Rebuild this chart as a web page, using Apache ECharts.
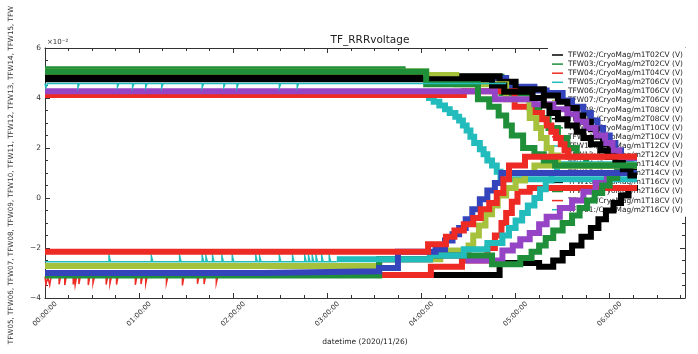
<!DOCTYPE html>
<html>
<head>
<meta charset="utf-8">
<title>TF_RRRvoltage</title>
<script src="https://cdn.jsdelivr.net/npm/echarts/dist/echarts.min.js"></script>
<style>
html, body { margin: 0; padding: 0; background: #fff; }
#chart { width: 698px; height: 354px; }
</style>
</head>
<body>
<div id="chart"></div>
<script>
// time in hours after 00:00:00, voltage in units of 1e-2 V

var names = [
    'TFW02:/CryoMag/m1T02CV (V)', 'TFW03:/CryoMag/m2T02CV (V)', 'TFW04:/CryoMag/m1T04CV (V)',
    'TFW05:/CryoMag/m2T06CV (V)', 'TFW06:/CryoMag/m1T06CV (V)', 'TFW07:/CryoMag/m2T06CV (V)',
    'TFW08:/CryoMag/m1T08CV (V)', 'TFW09:/CryoMag/m2T08CV (V)', 'TFW10:/CryoMag/m1T10CV (V)',
    'TFW11:/CryoMag/m2T10CV (V)', 'TFW12:/CryoMag/m1T12CV (V)', 'TFW13:/CryoMag/m2T12CV (V)',
    'TFW14:/CryoMag/m1T14CV (V)', 'TFW15:/CryoMag/m2T14CV (V)', 'TFW16:/CryoMag/m1T16CV (V)',
    'TFW17:/CryoMag/m2T16CV (V)', 'TFW18:/CryoMag/m1T18CV (V)', 'TFW01:/CryoMag/m2T16CV (V)'
];

var hourTicks = [0, 1, 2, 3, 4, 5, 6];
var yTicks = [-4, -2, 0, 2, 4, 6];

var tfw02 = [[0, -3.08], [4.83, -2.6], [5.25, -2.75], [5.4, -2.5], [5.5, -2.2], [5.6, -1.9], [5.7, -1.55],
    [5.8, -1.2], [5.88, -0.85], [5.96, -0.5], [6.04, -0.2], [6.12, 0.1], [6.2, 0.4], [6.3, 0.4]];
var tfw03 = [[0, 5.15], [3.8, 4.85], [4.85, 4.2], [5.15, 3.6], [5.25, 3.2], [5.35, 2.8], [5.45, 2.4],
    [5.55, 2.0], [5.65, 1.65], [5.75, 1.3], [6.29, 1.3]];
// TFW04: quiet part with the short drops below the band
var tfw04Quiet = [[0, -3.15], [0.01, -3.45], [0.03, -3.15], [0.05, -3.48], [0.065, -3.15], [0.15, -3.45], [0.165, -3.15],
    [0.21, -3.48], [0.225, -3.15], [0.3, -3.46], [0.313, -3.15], [0.32, -3.48], [0.335, -3.15], [0.36, -3.44], [0.375, -3.15],
    [0.46, -3.48], [0.475, -3.15], [0.51, -3.4], [0.525, -3.15], [0.65, -3.46], [0.665, -3.15], [0.69, -3.42], [0.705, -3.15],
    [0.76, -3.46], [0.775, -3.15], [0.96, -3.47], [0.975, -3.15], [1.02, -3.44], [1.035, -3.15], [1.07, -3.42], [1.085, -3.15],
    [1.29, -3.4], [1.305, -3.15], [1.46, -3.5], [1.475, -3.15], [1.62, -3.43], [1.635, -3.15], [1.69, -3.44], [1.705, -3.15],
    [1.82, -3.4], [1.835, -3.15], [3.55, -3.15]];
var tfw04 = [[3.55, -3.08], [4.1, -2.75], [4.43, -2.5], [4.7, -2.0], [4.78, -1.5], [4.85, -1.0], [4.9, -0.6],
    [4.96, -0.15], [5.02, 0.25], [5.15, 0.4], [6.29, 0.4]];
var tfw05 = [[0, 4.15], [4.08, 4.0], [4.13, 3.85], [4.19, 3.7], [4.25, 3.55], [4.3, 3.4], [4.36, 3.25], [4.4, 3.1],
    [4.44, 2.9], [4.48, 2.7], [4.52, 2.45], [4.56, 2.2], [4.62, 1.95], [4.66, 1.75], [4.7, 1.5], [4.75, 1.3],
    [4.8, 1.05], [4.84, 0.75], [6.29, 0.75]];
var tfw06 = [[0, 4.8], [4.9, 4.45], [5.2, 4.3], [5.33, 4.2], [5.5, 3.9], [5.6, 3.65], [5.72, 3.4], [5.8, 3.1],
    [5.87, 2.8], [5.93, 2.5], [6.0, 2.2], [6.06, 1.9], [6.12, 1.6], [6.18, 1.3], [6.22, 1.0], [6.29, 1.0]];
var tfw07 = [[0, -2.72], [3.55, -2.45], [4.2, -2.1], [4.5, -1.9], [4.55, -1.5], [4.61, -1.1], [4.68, -0.65],
    [4.75, -0.3], [4.81, 0.1], [4.9, 0.4], [5.0, 0.7], [5.1, 1.0], [5.2, 1.3], [6.29, 1.3]];
var tfw08 = [[0, -3.05], [3.55, -2.45], [4.09, -2.3], [4.5, -2.5], [4.86, -2.1], [4.97, -1.9], [5.05, -1.65],
    [5.15, -1.4], [5.25, -1.05], [5.33, -0.75], [5.47, -0.4], [5.6, -0.1], [5.72, 0.25], [5.85, 0.6],
    [5.97, 0.95], [6.08, 1.3], [6.29, 1.3]];
var tfw09 = [[0, 4.87], [4.83, 4.65], [5.0, 4.35], [5.3, 4.1], [5.45, 3.85], [5.55, 3.6], [5.65, 3.3], [5.72, 3.05],
    [5.8, 2.75], [5.86, 2.45], [5.93, 2.15], [6.0, 1.85], [6.07, 1.6], [6.14, 1.35], [6.22, 1.1], [6.29, 1.1]];
var tfw10 = [[0, -3.1], [3.55, -2.45], [4.09, -2.3], [4.75, -2.65], [5.05, -2.4], [5.17, -2.15], [5.25, -1.9],
    [5.32, -1.6], [5.4, -1.3], [5.5, -1.0], [5.6, -0.7], [5.68, -0.4], [5.76, -0.1], [5.84, 0.2], [5.92, 0.5],
    [6.0, 0.8], [6.08, 1.05], [6.15, 1.3], [6.29, 1.3]];
var tfw11 = [[0, 4.12], [4.45, 4.27], [4.99, 3.65], [5.17, 3.4], [5.28, 3.15], [5.33, 2.9], [5.38, 2.65],
    [5.43, 2.4], [5.48, 2.15], [5.52, 1.9], [5.56, 1.65], [6.29, 1.65]];
// TFW12: thin line with upward blips, then the noisy band
var tfw12Quiet = [[0, -2.55], [0.68, -2.3], [0.695, -2.55], [1.13, -2.32], [1.145, -2.55], [1.43, -2.3], [1.445, -2.55],
    [1.67, -2.3], [1.685, -2.55], [1.71, -2.33], [1.725, -2.55], [1.78, -2.3], [1.795, -2.55], [1.88, -2.32], [1.895, -2.55],
    [1.99, -2.3], [2.005, -2.55], [2.24, -2.3], [2.255, -2.55], [2.28, -2.33], [2.295, -2.55], [2.49, -2.3], [2.505, -2.55],
    [2.63, -2.3], [2.645, -2.55], [2.76, -2.31], [2.775, -2.55], [2.8, -2.3], [2.815, -2.55], [2.84, -2.32], [2.855, -2.55],
    [2.88, -2.3], [2.895, -2.55], [2.94, -2.3], [2.955, -2.55], [3.02, -2.31], [3.035, -2.55], [3.1, -2.55]];
var tfw12 = [[3.1, -2.45], [4.09, -2.3], [4.45, -2.05], [4.7, -1.8], [4.86, -1.5], [4.93, -1.2], [5.0, -0.9],
    [5.07, -0.6], [5.13, -0.3], [5.2, 0.0], [5.26, 0.35], [5.32, 0.7], [5.38, 1.0], [5.44, 1.35], [6.29, 1.35]];
var tfw13 = [[0, -3.0], [2.3, -2.93], [3.55, -2.8], [3.75, -2.15], [4.15, -2.05], [4.25, -1.7], [4.33, -1.45],
    [4.4, -1.2], [4.47, -0.85], [4.54, -0.45], [4.62, -0.05], [4.7, 0.3], [4.78, 0.6], [4.85, 1.0], [6.29, 1.0]];
var tfw14 = [[0, 5.06], [4.05, 4.92], [4.37, 4.55], [4.9, 3.95], [5.15, 3.2], [5.22, 2.8], [5.27, 2.4],
    [5.33, 2.0], [5.38, 1.7], [5.45, 1.3], [6.29, 1.3]];
var tfw15 = [[0, 4.27], [4.78, 3.95], [5.2, 3.75], [5.4, 3.55], [5.55, 3.35], [5.65, 3.05], [5.75, 2.8],
    [5.85, 2.5], [5.95, 2.2], [6.03, 1.9], [6.1, 1.6], [6.29, 1.6]];
var tfw16 = [[0, 4.75], [4.75, 4.5], [4.88, 4.25], [5.18, 4.0], [5.3, 3.7], [5.36, 3.4], [5.45, 3.15], [5.55, 2.9],
    [5.65, 2.65], [5.72, 2.4], [5.8, 2.15], [5.9, 1.9], [5.98, 1.65], [6.06, 1.4], [6.14, 1.15], [6.22, 0.9], [6.29, 0.9]];
var tfw17 = [[0, 5.06], [4.05, 4.55], [4.6, 3.95], [4.72, 3.65], [4.82, 3.3], [4.9, 2.9], [4.96, 2.5],
    [5.08, 2.0], [5.2, 1.75], [5.3, 1.5], [5.42, 1.3], [6.29, 1.3]];
var tfw18 = [[0, -2.15], [4.07, -1.85], [4.26, -1.55], [4.35, -1.3], [4.45, -1.05], [4.55, -0.8], [4.63, -0.45],
    [4.72, -0.2], [4.8, 0.2], [4.87, 0.75], [4.93, 1.3], [5.1, 1.65], [6.29, 1.65]];
var tfw01 = [[0, 4.58], [0.01, 4.42], [0.025, 4.58], [0.35, 4.42], [0.365, 4.58], [0.77, 4.44], [0.785, 4.58],
    [0.93, 4.42], [0.945, 4.58], [1.07, 4.43], [1.085, 4.58], [1.24, 4.42], [1.255, 4.58], [1.67, 4.42], [1.685, 4.58],
    [1.9, 4.44], [1.915, 4.58], [2.04, 4.42], [2.055, 4.58], [2.49, 4.42], [2.505, 4.58], [2.68, 4.43], [2.695, 4.58],
    [4.9, 4.58]];

var colors = ['#000000', '#1f8f3a', '#ee2a24', '#22bcbc', '#3444bb', '#a6c23c', '#9444c4'];

// legend index, data, line width (drawn in this order)
var traces = [
    [0, tfw02, 6], [1, tfw03, 6], [2, tfw04Quiet, 1.5], [2, tfw04, 6], [3, tfw05, 6],
    [4, tfw06, 6], [5, tfw07, 6], [6, tfw08, 6], [7, tfw09, 6], [8, tfw10, 6],
    [9, tfw11, 6], [10, tfw12Quiet, 1.5], [10, tfw12, 6], [11, tfw13, 6], [12, tfw14, 6],
    [13, tfw15, 6], [14, tfw16, 6], [15, tfw17, 6], [16, tfw18, 6], [17, tfw01, 1.5]
];

var chart = echarts.init(document.getElementById('chart'));

var series = traces.map(function (t) {
    var c = colors[t[0] % 7];
    return {
        name: names[t[0]],
        type: 'line',
        step: 'end',
        data: t[1],
        showSymbol: false,
        symbol: 'none',
        color: c,
        lineStyle: { width: t[2], color: c, cap: 'butt', join: 'miter' },
        emphasis: { disabled: true },
        z: 2
    };
});

function hourLabel(v) {
    return hourTicks.indexOf(v) >= 0 ? '0' + v + ':00:00' : '';
}
function yLabel(v) {
    if (yTicks.indexOf(v) < 0) return '';
    return v < 0 ? '\u2212' + (-v) : String(v);
}

var axisColor = '#333';
var frameX = {
    type: 'value', min: 0, max: 6.8, interval: 1,
    splitLine: { show: false },
    axisLine: { onZero: false, lineStyle: { color: axisColor, width: 1 } },
    axisTick: { inside: true, length: 5, lineStyle: { color: axisColor } },
    minorTick: { show: true, splitNumber: 4, length: 3, lineStyle: { color: axisColor } }
};
var frameY = {
    type: 'value', min: -4, max: 6, interval: 2,
    splitLine: { show: false },
    axisLine: { show: true, onZero: false, lineStyle: { color: axisColor, width: 1 } },
    axisTick: { show: true, inside: true, length: 5, lineStyle: { color: axisColor } },
    minorTick: { show: true, splitNumber: 4, length: 3, lineStyle: { color: axisColor } }
};

var option = {
    animation: false,
    textStyle: { fontFamily: 'DejaVu Sans' },
    title: {
        text: 'TF_RRRvoltage',
        left: 365, top: 30, textAlign: 'center',
        textStyle: { fontSize: 10.5, fontWeight: 'normal', color: '#222' }
    },
    grid: { left: 45, right: 13, top: 48, bottom: 56 },
    legend: {
        data: names,
        orient: 'vertical',
        left: 548, top: 48,
        z: 1,
        icon: 'rect',
        itemWidth: 11, itemHeight: 1.5, itemGap: 1.1,
        padding: [3, 4],
        backgroundColor: '#fff',
        textStyle: { fontSize: 7.4, lineHeight: 8, color: '#222' },
        selectedMode: false
    },
    xAxis: [
        Object.assign({}, frameX, {
            position: 'bottom',
            name: 'datetime (2020/11/26)', nameLocation: 'middle', nameGap: 40,
            nameTextStyle: { fontSize: 7.5, color: '#222' },
            axisLabel: {
                rotate: 45, fontSize: 7, color: '#333', margin: 16,
                align: 'center', verticalAlign: 'middle',
                showMaxLabel: false, formatter: hourLabel
            }
        }),
        Object.assign({}, frameX, { position: 'top', axisLabel: { show: false } })
    ],
    yAxis: [
        Object.assign({}, frameY, {
            position: 'left',
            axisLabel: { fontSize: 7.5, color: '#333', margin: 4, formatter: yLabel }
        }),
        Object.assign({}, frameY, { position: 'right', axisLabel: { show: false } })
    ],
    graphic: [
        {
            type: 'text', left: 47, top: 39,
            style: { text: '\u00d710\u207b\u00b2', fontSize: 7, fill: '#333', fontFamily: 'DejaVu Sans' }
        },
        {
            type: 'text', x: 11, y: 175, rotation: Math.PI / 2,
            style: {
                text: 'TFW05, TFW06, TFW07, TFW08, TFW09, TFW10, TFW11, TFW12, TFW13, TFW14, TFW15, TFW',
                fontSize: 7.2, fill: '#333', fontFamily: 'DejaVu Sans',
                align: 'center', verticalAlign: 'middle'
            }
        }
    ],
    series: series
};

chart.setOption(option);
</script>
</body>
</html>
